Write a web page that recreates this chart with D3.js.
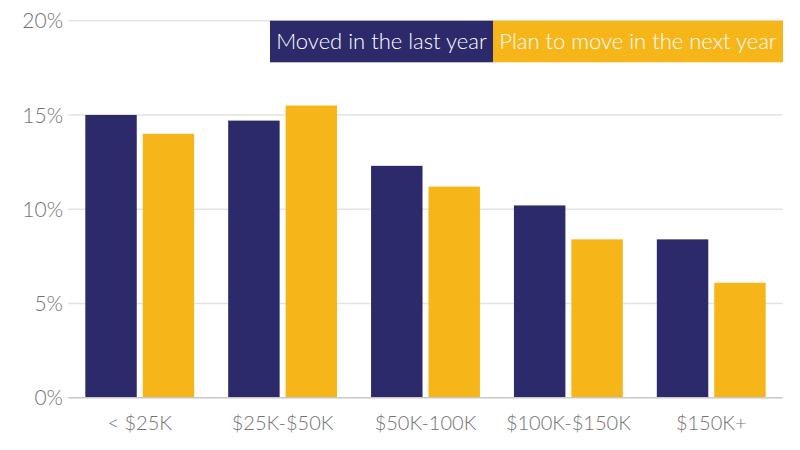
<!DOCTYPE html>
<html><head><meta charset="utf-8">
<script src="https://cdn.jsdelivr.net/npm/d3@7"></script>
<style>body{margin:0;background:#fff}svg{display:block}</style>
</head><body>
<svg id="c" width="800" height="450"></svg>
<script>
const categories = ["< $25K", "$25K-$50K", "$50K-100K", "$100K-$150K", "$150K+"];
const seriesNames = ["Moved in the last year", "Plan to move in the next year"];
const movedLastYear = [15.0, 14.7, 12.3, 10.2, 8.4];
const planNextYear = [14.0, 15.5, 11.2, 8.4, 6.1];
const yTicks = [0, 5, 10, 15, 20];
const colors = ["#2c2a6b", "#f6b61a"];

(function () {
const series = [movedLastYear, planNextYear];
const svg = d3.select("#c");
const font = "Lato, 'Open Sans', sans-serif";
const mLeft = 68.3, mRight = 782.7, mTop = 20.7, mBottom = 397.7;

const x0 = d3.scaleBand().domain(categories).range([mLeft, mRight]).padding(0);
const x1 = d3.scaleBand().domain(d3.range(series.length)).range([17, x0.bandwidth() - 17]).paddingInner(0.104).paddingOuter(0);
const y = d3.scaleLinear().domain([0, 20]).range([mBottom, mTop]);

function fitText(t, maxW, size) {
  const w = t.node().getComputedTextLength();
  if (w > maxW) t.attr("font-size", size * maxW / w);
}

// gridlines
svg.append("g").selectAll("line").data(yTicks.filter(d => d > 0)).join("line")
  .attr("x1", mLeft).attr("x2", mRight)
  .attr("y1", d => y(d)).attr("y2", d => y(d))
  .attr("stroke", "#e3e3e3").attr("stroke-width", 1.5);

// y tick labels
svg.append("g").selectAll("text").data(yTicks).join("text")
  .attr("x", 63).attr("y", d => y(d)).attr("dy", "0.36em")
  .attr("text-anchor", "end").attr("font-family", font).attr("font-weight", 300)
  .attr("font-size", 21).attr("fill", "#727272")
  .text(d => d + "%")
  .each(function () { fitText(d3.select(this), 41, 21); });

// bars
const g = svg.append("g").selectAll("g").data(categories).join("g")
  .attr("transform", d => `translate(${x0(d)},0)`);
g.selectAll("rect").data((d, i) => series.map((s, k) => ({k, v: s[i]}))).join("rect")
  .attr("x", d => x1(d.k)).attr("width", x1.bandwidth())
  .attr("y", d => y(d.v)).attr("height", d => y(0) - y(d.v))
  .attr("fill", d => colors[d.k]);

// baseline
svg.append("line").attr("x1", mLeft).attr("x2", mRight).attr("y1", mBottom).attr("y2", mBottom)
  .attr("stroke", "#c8c8c8").attr("stroke-width", 1.5);

// x labels
svg.append("g").selectAll("text").data(categories).join("text")
  .attr("x", d => x0(d) + x0.bandwidth() / 2).attr("y", 423).attr("dy", "0.36em")
  .attr("text-anchor", "middle").attr("font-family", font).attr("font-weight", 300)
  .attr("font-size", 20).attr("fill", "#727272")
  .text(d => d);

// legend
const legBoxes = [[270, 493], [493, 783]];
const leg = svg.append("g");
seriesNames.forEach((name, k) => {
  const [a, b] = legBoxes[k];
  leg.append("rect").attr("x", a).attr("y", mTop).attr("width", b - a).attr("height", 41.6).attr("fill", colors[k]);
  const t = leg.append("text").attr("x", (a + b) / 2).attr("y", 41.5).attr("dy", "0.36em")
    .attr("text-anchor", "middle").attr("font-family", font).attr("font-weight", 300)
    .attr("font-size", 22).attr("fill", "#fff").text(name);
  fitText(t, b - a - 12, 22);
});
})();
</script>
</body></html>
